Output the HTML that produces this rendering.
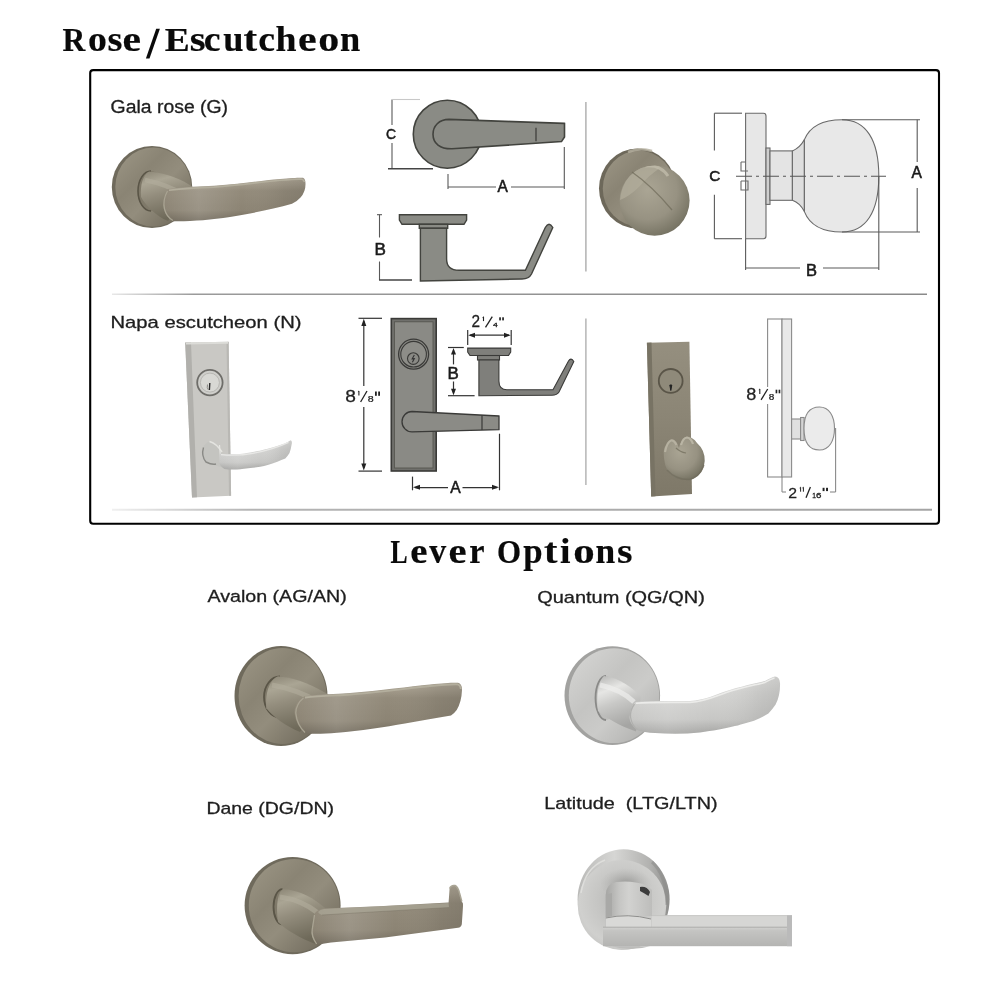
<!DOCTYPE html>
<html><head><meta charset="utf-8"><title>Rose/Escutcheon - Lever Options</title>
<style>
html,body{margin:0;padding:0;background:#fff;width:1000px;height:1000px;overflow:hidden}
svg{display:block;filter:blur(0.35px)}
.t{font-family:"Liberation Serif",serif;font-weight:bold;fill:#0a0a0a;stroke:#0a0a0a;stroke-width:0.2}
.l{font-family:"Liberation Sans",sans-serif;fill:#1e1e1e;stroke:#1e1e1e;stroke-width:0.3}
.d{font-family:"Liberation Sans",sans-serif;fill:#222;stroke:#222;stroke-width:0.4}
</style></head><body>
<svg width="1000" height="1000" viewBox="0 0 1000 1000">
<defs>
<linearGradient id="fadeL" gradientUnits="userSpaceOnUse" x1="112" y1="0" x2="927" y2="0">
  <stop offset="0" stop-color="#e8e8e8"/><stop offset="0.1" stop-color="#9a9a9a"/><stop offset="1" stop-color="#8a8a8a"/>
</linearGradient>
<linearGradient id="fadeL2" gradientUnits="userSpaceOnUse" x1="112" y1="0" x2="932" y2="0">
  <stop offset="0" stop-color="#f0f0f0"/><stop offset="0.17" stop-color="#b4b4b4"/><stop offset="1" stop-color="#a4a4a4"/>
</linearGradient>
<radialGradient id="bRose" cx="0.42" cy="0.38" r="0.62">
  <stop offset="0" stop-color="#9d9786"/><stop offset="0.55" stop-color="#878171"/><stop offset="0.88" stop-color="#736e5f"/><stop offset="1" stop-color="#5f5a4d"/>
</radialGradient>
<linearGradient id="bLev" x1="0" y1="0" x2="0" y2="1">
  <stop offset="0" stop-color="#a39e8d"/><stop offset="0.22" stop-color="#989382"/><stop offset="0.65" stop-color="#8a8474"/><stop offset="1" stop-color="#6c6759"/>
</linearGradient>
<linearGradient id="bNeck" x1="0" y1="0" x2="0" y2="1">
  <stop offset="0" stop-color="#7d7869"/><stop offset="0.35" stop-color="#a8a392"/><stop offset="0.6" stop-color="#8a8575"/><stop offset="1" stop-color="#635e50"/>
</linearGradient>
<radialGradient id="sRose" cx="0.42" cy="0.38" r="0.62">
  <stop offset="0" stop-color="#dcdcda"/><stop offset="0.55" stop-color="#cacac8"/><stop offset="0.88" stop-color="#b9b9b7"/><stop offset="1" stop-color="#9c9c9a"/>
</radialGradient>
<linearGradient id="sLev" x1="0" y1="0" x2="0" y2="1">
  <stop offset="0" stop-color="#e2e2e0"/><stop offset="0.3" stop-color="#d6d6d4"/><stop offset="0.75" stop-color="#c6c6c4"/><stop offset="1" stop-color="#a4a4a2"/>
</linearGradient>
<linearGradient id="sNeck" x1="0" y1="0" x2="0" y2="1">
  <stop offset="0" stop-color="#b8b8b6"/><stop offset="0.35" stop-color="#e4e4e2"/><stop offset="0.6" stop-color="#cbcbc9"/><stop offset="1" stop-color="#a2a2a0"/>
</linearGradient>
<linearGradient id="nPlate" x1="0" y1="0" x2="1" y2="0">
  <stop offset="0" stop-color="#b2b1ad"/><stop offset="0.12" stop-color="#c9c8c4"/><stop offset="0.85" stop-color="#cac9c5"/><stop offset="1" stop-color="#b9b8b4"/>
</linearGradient>
<linearGradient id="bPlate" x1="0" y1="0" x2="0" y2="1">
  <stop offset="0" stop-color="#958f7f"/><stop offset="0.5" stop-color="#8b8575"/><stop offset="1" stop-color="#7e7868"/>
</linearGradient>
<radialGradient id="bKnob" cx="0.4" cy="0.35" r="0.7">
  <stop offset="0" stop-color="#aaa594"/><stop offset="0.6" stop-color="#979282"/><stop offset="1" stop-color="#737060"/>
</radialGradient>

</defs>
<rect width="1000" height="1000" fill="#fff"/>

<!-- titles -->
<g class="t"><text x="0" y="0" font-size="33.6" transform="translate(62.46,51.4) scale(0.938,1)">R</text><text x="0" y="0" font-size="35.5" transform="translate(87.96,51.4) scale(1.063,1)">o</text><text x="0" y="0" font-size="35.5" transform="translate(107.44,51.4) scale(1.078,1)">s</text><text x="0" y="0" font-size="35.5" transform="translate(122.38,51.4) scale(1.174,1)">e</text><text x="0" y="0" font-size="33.6" transform="translate(164.76,51.4) scale(1.114,1)">E</text><text x="0" y="0" font-size="35.5" transform="translate(189.77,51.4) scale(1.145,1)">s</text><text x="0" y="0" font-size="35.5" transform="translate(203.81,51.4) scale(1.062,1)">c</text><text x="0" y="0" font-size="35.5" transform="translate(223.25,51.4) scale(1.025,1)">u</text><text x="0" y="0" font-size="35.5" transform="translate(243.54,51.4) scale(1.154,1)">t</text><text x="0" y="0" font-size="35.5" transform="translate(258.21,51.4) scale(1.062,1)">c</text><text x="0" y="0" font-size="35.5" transform="translate(275.56,51.4) scale(1.064,1)">h</text><text x="0" y="0" font-size="35.5" transform="translate(298.07,51.4) scale(1.182,1)">e</text><text x="0" y="0" font-size="35.5" transform="translate(318.30,51.4) scale(1.183,1)">o</text><text x="0" y="0" font-size="35.5" transform="translate(340.12,51.4) scale(1.025,1)">n</text></g>
<g class="t"><text x="0" y="0" font-size="33" transform="translate(390.46,562.6) scale(0.778,1)">L</text><text x="0" y="0" font-size="35.5" transform="translate(410.37,562.6) scale(1.094,1)">e</text><text x="0" y="0" font-size="35.5" transform="translate(429.20,562.6) scale(0.952,1)">v</text><text x="0" y="0" font-size="35.5" transform="translate(448.61,562.6) scale(1.145,1)">e</text><text x="0" y="0" font-size="35.5" transform="translate(469.28,562.6) scale(0.969,1)">r</text><text x="0" y="0" font-size="33" transform="translate(496.99,562.6) scale(0.936,1)">O</text><text x="0" y="0" font-size="35.5" transform="translate(523.26,562.6) scale(0.980,1)">p</text><text x="0" y="0" font-size="35.5" transform="translate(544.05,562.6) scale(1.136,1)">t</text><text x="0" y="0" font-size="35.5" transform="translate(559.97,562.6) scale(1.063,1)">i</text><text x="0" y="0" font-size="35.5" transform="translate(573.16,562.6) scale(1.210,1)">o</text><text x="0" y="0" font-size="35.5" transform="translate(595.55,562.6) scale(0.997,1)">n</text><text x="0" y="0" font-size="35.5" transform="translate(617.00,562.6) scale(1.120,1)">s</text></g>

<polygon points="156.2,28.8 159.9,28.8 149.5,58.5 145.9,58.5" fill="#0a0a0a"/>
<!-- box -->
<rect x="90.2" y="70.1" width="848.8" height="453.6" rx="3" fill="none" stroke="#000" stroke-width="2.1"/>
<line x1="112" y1="294.2" x2="927" y2="294.2" stroke="url(#fadeL)" stroke-width="1.6"/>
<line x1="112" y1="509.8" x2="932" y2="509.8" stroke="url(#fadeL2)" stroke-width="2"/>
<line x1="585.9" y1="102" x2="585.9" y2="271.4" stroke="#acacac" stroke-width="1.4"/>
<line x1="585.9" y1="318.6" x2="585.9" y2="485" stroke="#b0b0b0" stroke-width="1.4"/>


<!-- ===== top-middle lever diagram (top view) ===== -->
<g stroke="#42433e" stroke-width="1.6" fill="#8a8b85">
  <circle cx="447.3" cy="134.2" r="34"/>
  <path d="M564.5,123.4 L449,119.4 C439,119.4 433,126 433,134.2 C433,143.5 440,149 452,148.8 L561.5,141.6 L564.5,137 Z"/>
</g>
<line x1="536" y1="127.8" x2="536" y2="141.2" stroke="#3a3a36" stroke-width="1.2"/>
<g stroke="#585858" stroke-width="1.1" fill="none">
  <line x1="392" y1="99.5" x2="392" y2="125"/>
  <line x1="392" y1="143" x2="392" y2="168.7"/>
  <line x1="392" y1="99.5" x2="420" y2="99.5" stroke="#c8c8c8"/>
  <line x1="388" y1="168.7" x2="433" y2="168.7" stroke="#444" stroke-width="1.4"/>
  <line x1="448" y1="174" x2="448" y2="189"/>
  <line x1="564.3" y1="147" x2="564.3" y2="189"/>
  <line x1="448" y1="187" x2="496" y2="187"/>
  <line x1="511" y1="187" x2="564.3" y2="187"/>
</g>

<!-- side view -->
<g stroke="#42433e" stroke-width="1.4" fill="#8a8b85">
  <path d="M399.4,214.7 L466.6,214.7 L466.6,220 L464,224.3 L402,224.3 L399.4,220 Z"/>
  <rect x="419.3" y="224.3" width="28.4" height="4"/>
  <path d="M420.4,228.3 L446.6,228.3 L446.6,259 Q446.6,270.3 459,270.3 L525.4,270.3 L545.3,227.5 Q549,221 552.8,227.5 L531.5,274 Q529,279 522,279 L420.4,281 Z"/>
</g>
<g stroke="#585858" stroke-width="1.1" fill="none">
  <line x1="379.5" y1="214.7" x2="379.5" y2="237.5"/>
  <line x1="379.5" y1="261.5" x2="379.5" y2="280"/>
  <line x1="377" y1="214.7" x2="382" y2="214.7"/>
  <line x1="379" y1="280" x2="412" y2="280" stroke="#444" stroke-width="1.4"/>
</g>

<!-- ===== knob diagram (top right) ===== -->
<g stroke="#5a5a5a" stroke-width="1.1" fill="none">
  <line x1="714.4" y1="113.2" x2="714.4" y2="150.4"/>
  <line x1="714.4" y1="194.8" x2="714.4" y2="238.7"/>
  <line x1="714.4" y1="113.2" x2="742" y2="113.2"/>
  <line x1="714.4" y1="238.7" x2="742" y2="238.7"/>
</g>
<g stroke="#6a6a6a" stroke-width="1.1" fill="#e7e7e7">
  <path d="M745.6,113.2 L763.5,113.2 Q766,113.2 766,116 L766,236 Q766,238.7 763.5,238.7 L745.6,238.7 Z"/>
  <rect x="766" y="148" width="4" height="56.4" fill="#cfcfcf"/>
  <rect x="770" y="150.9" width="22.4" height="49.4" fill="#e4e4e4"/>
  <path d="M792.4,150.9 Q800,148 804.4,139.6 L804.4,211.6 Q800,203 792.4,200.3 Z" fill="#dedede"/>
  <path d="M804.4,139.6 C810,126 824,119.7 842,119.7 C866,119.7 878.8,140 878.8,176 C878.8,212 866,232 842,232 C824,232 810,226 804.4,211.6 Z" fill="#e8e8e8"/>
  <path d="M741,162 L745.6,162 M741,162 L741,171 L748,171 M741,181 L748,181 L748,190 L741,190 L741,181" fill="none"/>
</g>
<line x1="736" y1="176.3" x2="886" y2="176.3" stroke="#555" stroke-width="1.1" stroke-dasharray="16,4,3,4"/>
<g stroke="#5a5a5a" stroke-width="1.1" fill="none">
  <line x1="842" y1="119.7" x2="920" y2="119.7"/>
  <line x1="842" y1="232" x2="920" y2="232"/>
  <line x1="917.2" y1="119.7" x2="917.2" y2="162"/>
  <line x1="917.2" y1="188" x2="917.2" y2="232"/>
  <line x1="745.6" y1="238.7" x2="745.6" y2="270"/>
  <line x1="878.8" y1="176" x2="878.8" y2="270"/>
  <line x1="745.6" y1="268" x2="800" y2="268"/>
  <line x1="823" y1="268" x2="878.8" y2="268"/>
</g>

<!-- ===== Napa diagram ===== -->
<g stroke="#3a3a38" stroke-width="1.6" fill="#70706c">
  <rect x="391.3" y="318.6" width="44.9" height="152.4"/>
  <rect x="394.4" y="321.8" width="38.6" height="146.2" fill="#8a8a85" stroke="#55554f" stroke-width="0.9"/>
  <circle cx="413.6" cy="354.2" r="15" fill="#8a8a85" stroke-width="1.3"/>
  <circle cx="413.6" cy="354.2" r="12.8" fill="#8d8d88" stroke-width="1.1"/>
  <circle cx="413.3" cy="358.6" r="5.8" fill="#8a8a85" stroke-width="1.1"/>
  <path d="M499,416 L412,411.5 A10,10.2 0 0 0 412,431.9 L499,429.7 Z" fill="#8b8b86" stroke-width="1.3"/>
</g>
<line x1="482" y1="415.2" x2="482" y2="430" stroke="#3a3a38" stroke-width="1.2"/>
<path d="M414.3,355 L412.2,358.8 L414.3,358.6 L412.4,362.3" fill="none" stroke="#333" stroke-width="1.1"/>
<g stroke="#333" stroke-width="1.2" fill="none">
  <line x1="363.8" y1="321" x2="363.8" y2="386"/>
  <line x1="363.8" y1="407" x2="363.8" y2="468"/>
  <line x1="358.5" y1="318.3" x2="382" y2="318.3"/>
  <line x1="358.5" y1="471.1" x2="382" y2="471.1"/>
  <line x1="412.5" y1="476.6" x2="412.5" y2="490.3"/>
  <line x1="499.5" y1="433.7" x2="499.5" y2="490.3"/>
  <line x1="415" y1="487.6" x2="448" y2="487.6"/>
  <line x1="462.5" y1="487.6" x2="497" y2="487.6"/>
  <line x1="453.5" y1="350" x2="453.5" y2="364.4"/>
  <line x1="453.5" y1="381.5" x2="453.5" y2="393"/>
  <line x1="448" y1="347.5" x2="463.8" y2="347.5"/>
  <line x1="448" y1="395.7" x2="474.6" y2="395.7"/>
  <line x1="470" y1="335.2" x2="509" y2="335.2"/>
  <line x1="467.7" y1="330" x2="467.7" y2="345"/>
  <line x1="511.2" y1="330" x2="511.2" y2="345"/>
</g>
<g fill="#222">
  <path d="M363.8,318.8 L361.3,326 L366.3,326 Z"/>
  <path d="M363.8,470.6 L361.3,463.4 L366.3,463.4 Z"/>
  <path d="M413,487.3 L420,484.8 L420,489.8 Z"/>
  <path d="M499,487.3 L492,484.8 L492,489.8 Z"/>
  <path d="M453.5,348 L451,354.5 L456,354.5 Z"/>
  <path d="M453.5,395.2 L451,388.7 L456,388.7 Z"/>
  <path d="M468.2,335.2 L475,332.7 L475,337.7 Z"/>
  <path d="M510.7,335.2 L504,332.7 L504,337.7 Z"/>
</g>
<!-- small side lever -->
<g stroke="#3a3a38" stroke-width="1.1" fill="#7f7f7b">
  <path d="M467.7,348.1 L510.7,348.1 L510.7,352 L508.5,355.5 L470,355.5 L467.7,352 Z"/>
  <rect x="477.5" y="355.5" width="22" height="4.5"/>
  <path d="M478.9,360 L498.9,360 L498.9,381 Q498.9,389.8 507,389.8 L553,389.8 L568.5,361 Q571,357 573.8,361.5 L559,392 Q557,395.2 552,395.2 L478.9,395.7 Z"/>
</g>

<!-- ===== knob side diagram (bottom right) ===== -->
<g stroke="#8a8a8a" stroke-width="1.1">
  <rect x="767.6" y="319" width="14.4" height="158" fill="#fff"/>
  <rect x="782" y="319" width="9.6" height="158" fill="#e8e8e8"/>
  <rect x="791.6" y="419" width="9" height="20" fill="#e0e0e0"/>
  <rect x="800.6" y="417.5" width="3.5" height="23" fill="#d4d4d4"/>
  <path d="M804,428.5 C804,414 810,407 819.5,407 C829,407 834.5,416 834.5,428.5 C834.5,441 829,450 819.5,450 C810,450 804,443 804,428.5 Z" fill="#ebebeb"/>
  <line x1="782" y1="477" x2="782" y2="492"/>
  <line x1="835.6" y1="428" x2="835.6" y2="492"/>
  <line x1="782" y1="492" x2="786" y2="492"/>
  <line x1="830" y1="492" x2="835.6" y2="492"/>
</g>
<rect x="766" y="387" width="3.5" height="17" fill="#fff"/>


<!--FRAC-->
<g font-family="Liberation Sans, sans-serif">
<text x="0" y="0" font-size="15.89" transform="translate(345.17,401.84) scale(1.207,1)" fill="#222" stroke="#222" stroke-width="0.25">8</text>
<line x1="358.9" y1="391" x2="358.9" y2="395.5" stroke="#222" stroke-width="1.1"/><line x1="357.9" y1="391.8" x2="358.9" y2="391" stroke="#222" stroke-width="0.8800000000000001"/>
<line x1="367" y1="391" x2="360.6" y2="402" stroke="#222" stroke-width="1.3"/>
<text x="0" y="0" font-size="9.18" transform="translate(367.79,401.91) scale(1.161,1)" fill="#222" stroke="#222" stroke-width="0.25">8</text>
<rect x="375" y="391.5" width="1.80" height="4.30" fill="#222"/><rect x="378.20" y="391.5" width="1.80" height="4.30" fill="#222"/>
<text x="0" y="0" font-size="15.75" transform="translate(471.43,327.40) scale(0.975,1)" fill="#222" stroke="#222" stroke-width="0.25">2</text>
<line x1="483.5" y1="316.8" x2="483.5" y2="321.1" stroke="#222" stroke-width="1.1"/><line x1="482.5" y1="317.6" x2="483.5" y2="316.8" stroke="#222" stroke-width="0.8800000000000001"/>
<line x1="492.3" y1="316.6" x2="485.5" y2="327.4" stroke="#222" stroke-width="1.3"/>
<text x="0" y="0" font-size="5.52" transform="translate(492.90,326.90) scale(1.545,1)" fill="#222" stroke="#222" stroke-width="0.25">4</text>
<rect x="499.2" y="317.3" width="1.69" height="3.10" fill="#222"/><rect x="502.21" y="317.3" width="1.69" height="3.10" fill="#222"/>
<text x="0" y="0" font-size="15.68" transform="translate(746.21,399.75) scale(1.155,1)" fill="#222" stroke="#222" stroke-width="0.25">8</text>
<line x1="759.8" y1="389" x2="759.8" y2="394" stroke="#222" stroke-width="1.1"/><line x1="758.8" y1="389.8" x2="759.8" y2="389" stroke="#222" stroke-width="0.8800000000000001"/>
<line x1="767.7" y1="389" x2="761.1" y2="399.9" stroke="#222" stroke-width="1.3"/>
<text x="0" y="0" font-size="9.04" transform="translate(768.86,399.81) scale(1.108,1)" fill="#222" stroke="#222" stroke-width="0.25">8</text>
<rect x="775.6" y="389.7" width="1.69" height="3.60" fill="#222"/><rect x="778.61" y="389.7" width="1.69" height="3.60" fill="#222"/>
<text x="0" y="0" font-size="15.47" transform="translate(788.21,497.70) scale(1.022,1)" fill="#222" stroke="#222" stroke-width="0.25">2</text>
<line x1="800.6" y1="487.2" x2="800.6" y2="491.7" stroke="#222" stroke-width="1.0"/><line x1="799.6" y1="488.0" x2="800.6" y2="487.2" stroke="#222" stroke-width="0.8"/>
<line x1="803.4" y1="487.2" x2="803.4" y2="491.7" stroke="#222" stroke-width="1.0"/><line x1="802.4" y1="488.0" x2="803.4" y2="487.2" stroke="#222" stroke-width="0.8"/>
<line x1="810.4" y1="487" x2="806" y2="497.7" stroke="#222" stroke-width="1.3"/>
<text x="0" y="0" font-size="6.98" transform="translate(812.19,497.70) scale(0.964,1)" fill="#222" stroke="#222" stroke-width="0.25">1</text>
<text x="0" y="0" font-size="6.78" transform="translate(816.10,497.63) scale(1.438,1)" fill="#222" stroke="#222" stroke-width="0.25">6</text>
<rect x="822.6" y="487.8" width="1.94" height="3.30" fill="#222"/><rect x="826.06" y="487.8" width="1.94" height="3.30" fill="#222"/>
<text x="0" y="0" font-size="14.97" transform="translate(386.09,139.25) scale(0.928,1)" fill="#1a1a1a" stroke="#1a1a1a" stroke-width="0.55">C</text>
<text x="0" y="0" font-size="15.63" transform="translate(497.47,192.00) scale(0.989,1)" fill="#1a1a1a" stroke="#1a1a1a" stroke-width="0.55">A</text>
<text x="0" y="0" font-size="16.57" transform="translate(374.40,255.00) scale(1.032,1)" fill="#1a1a1a" stroke="#1a1a1a" stroke-width="0.55">B</text>
<text x="0" y="0" font-size="14.41" transform="translate(709.22,180.86) scale(1.063,1)" fill="#1a1a1a" stroke="#1a1a1a" stroke-width="0.55">C</text>
<text x="0" y="0" font-size="15.70" transform="translate(911.47,177.70) scale(0.990,1)" fill="#1a1a1a" stroke="#1a1a1a" stroke-width="0.55">A</text>
<text x="0" y="0" font-size="16.13" transform="translate(806.04,275.70) scale(1.025,1)" fill="#1a1a1a" stroke="#1a1a1a" stroke-width="0.55">B</text>
<text x="0" y="0" font-size="16.86" transform="translate(447.51,379.00) scale(1.003,1)" fill="#1a1a1a" stroke="#1a1a1a" stroke-width="0.55">B</text>
<text x="0" y="0" font-size="16.86" transform="translate(450.27,492.90) scale(0.930,1)" fill="#1a1a1a" stroke="#1a1a1a" stroke-width="0.55">A</text>
</g>
<!--/FRAC-->
<!--PHOTOS-->
<defs>
<linearGradient id="bFace" x1="0" y1="0" x2="1" y2="1">
  <stop offset="0" stop-color="#9e9887"/><stop offset="0.35" stop-color="#8a8474"/><stop offset="0.55" stop-color="#938d7d"/><stop offset="0.8" stop-color="#7b7566"/><stop offset="1" stop-color="#6a6557"/>
</linearGradient>
<linearGradient id="bLev2" x1="0" y1="0" x2="0" y2="1">
  <stop offset="0" stop-color="#ada595"/><stop offset="0.14" stop-color="#a29a8a"/><stop offset="0.3" stop-color="#938b7b"/><stop offset="0.75" stop-color="#8c8474"/><stop offset="1" stop-color="#716a5c"/>
</linearGradient>
<linearGradient id="levH" x1="0" y1="0" x2="1" y2="0">
  <stop offset="0" stop-color="#fff" stop-opacity="0"/><stop offset="0.25" stop-color="#fff" stop-opacity="0.13"/><stop offset="0.55" stop-color="#fff" stop-opacity="0"/><stop offset="0.85" stop-color="#000" stop-opacity="0.06"/><stop offset="1" stop-color="#000" stop-opacity="0.1"/>
</linearGradient>
<linearGradient id="bNeck2" x1="0" y1="0" x2="0.3" y2="1">
  <stop offset="0" stop-color="#8a8474"/><stop offset="0.25" stop-color="#aaa594"/><stop offset="0.5" stop-color="#948e7e"/><stop offset="1" stop-color="#6e6959"/>
</linearGradient>
<linearGradient id="sFace" x1="0" y1="0" x2="1" y2="1">
  <stop offset="0" stop-color="#d8d8d6"/><stop offset="0.4" stop-color="#c4c4c2"/><stop offset="0.6" stop-color="#cbcbc9"/><stop offset="1" stop-color="#a9a9a7"/>
</linearGradient>
<linearGradient id="sLev2" x1="0" y1="0" x2="0" y2="1">
  <stop offset="0" stop-color="#e2e2e0"/><stop offset="0.3" stop-color="#d4d4d2"/><stop offset="0.75" stop-color="#c7c7c5"/><stop offset="1" stop-color="#a6a6a4"/>
</linearGradient>
<linearGradient id="sNeck2" x1="0" y1="0" x2="0.3" y2="1">
  <stop offset="0" stop-color="#b5b5b3"/><stop offset="0.3" stop-color="#e6e6e4"/><stop offset="0.55" stop-color="#c9c9c7"/><stop offset="1" stop-color="#a5a5a3"/>
</linearGradient>
</defs>

<!-- Gala photo -->
<g>
  <ellipse cx="152" cy="187" rx="40.2" ry="41" fill="#6f6a5c"/>
  <ellipse cx="153.3" cy="187" rx="38" ry="39.4" fill="url(#bFace)"/>
  <ellipse cx="151" cy="191" rx="13" ry="20" fill="#7f7969"/>
  <path d="M151,171 A13,20 0 0 0 151,211" fill="none" stroke="#5a5547" stroke-width="1.6"/>
  <path d="M149,171.5 C166,173 182,179 194,188 L168,221 C156,216 146,206 141,197 C140,185 143,175 149,171.5 Z" fill="url(#bNeck2)"/>
  <path d="M145,180 C160,183 175,189 186,196" fill="none" stroke="#b3ae9c" stroke-width="4.5" opacity="0.6"/>
  <path d="M168,189 C185,187 200,186.2 214,185.8 C240,184 262,180.5 280,179 C292,178 300,177.5 303,177.8 Q305.5,178.5 305.5,184 Q305.5,192 300.5,197.5 Q297,201.5 292,203.8 C275,208.5 255,213 230,217 C210,220 190,221.5 174,221.2 Q166,218 163.5,208 Q162,197 168,189 Z" fill="url(#bLev2)"/>
  <path d="M168,189 C185,187 200,186.2 214,185.8 C240,184 262,180.5 280,179 C292,178 300,177.5 303,177.8 Q305.5,178.5 305.5,184 Q305.5,192 300.5,197.5 Q297,201.5 292,203.8 C275,208.5 255,213 230,217 C210,220 190,221.5 174,221.2 Q166,218 163.5,208 Q162,197 168,189 Z" fill="url(#levH)"/>
  <path d="M169,190.3 C185,188.3 200,187.5 214,187.1 C240,185.3 262,181.8 280,180.3 C292,179.3 299,178.9 302,179.2 Q304,179.6 304.3,182" fill="none" stroke="#b3ae9d" stroke-width="1.6"/>
  <path d="M167.5,191 Q162.5,200 164.5,209 Q166.5,217 173,220.5" fill="none" stroke="#a9a493" stroke-width="1.2"/>
</g>

<!-- Avalon photo -->
<g>
  <ellipse cx="281" cy="696" rx="46.5" ry="50" fill="#6f6a5c"/>
  <ellipse cx="282.6" cy="696" rx="44" ry="48" fill="url(#bFace)"/>
  <ellipse cx="280" cy="697" rx="16" ry="20.5" fill="#7f7969"/>
  <path d="M280,676.5 A16,20.5 0 0 0 280,717.5" fill="none" stroke="#5a5547" stroke-width="1.8"/>
  <path d="M278,676.3 C298,678 316,687 329,695 L300,732 C286,726 273,717 266.3,708.2 C265,694 269,680 278,676.3 Z" fill="url(#bNeck2)"/>
  <path d="M272,685 C290,688 307,695 320,703" fill="none" stroke="#b3ae9c" stroke-width="5" opacity="0.6"/>
  <path d="M304.7,696 C320,694.5 335,694 350,693 C380,690.5 410,686.5 430,684.5 C445,683 453,682.5 458,682.8 Q462,683.5 462,690 Q461.5,702 456.7,709.9 Q454,713.5 451,715.6 C435,718.5 420,721 405,723.5 C385,727 360,731 337,732.7 C325,733.8 315,734 306,733.5 Q296,727 294.3,712 Q295,701 304.7,696 Z" fill="url(#bLev2)"/>
  <path d="M304.7,696 C320,694.5 335,694 350,693 C380,690.5 410,686.5 430,684.5 C445,683 453,682.5 458,682.8 Q462,683.5 462,690 Q461.5,702 456.7,709.9 Q454,713.5 451,715.6 C435,718.5 420,721 405,723.5 C385,727 360,731 337,732.7 C325,733.8 315,734 306,733.5 Q296,727 294.3,712 Q295,701 304.7,696 Z" fill="url(#levH)"/>
  <path d="M305,697.5 C320,696 335,695.5 350,694.5 C380,692 410,688 430,686 C445,684.5 453,684 457.5,684.3 Q460.5,685 460.7,689" fill="none" stroke="#b3ae9d" stroke-width="1.8"/>
  <path d="M303.5,698 Q296,704 295.8,713 Q297,725 305,732.5" fill="none" stroke="#a9a493" stroke-width="1.3"/>
</g>

<!-- Quantum photo -->
<g>
  <ellipse cx="612.3" cy="695.6" rx="47.8" ry="49.4" fill="#a2a2a0"/>
  <ellipse cx="614" cy="695.6" rx="45.2" ry="47.4" fill="url(#sFace)"/>
  <ellipse cx="606" cy="698" rx="10.5" ry="22" fill="#bdbdbb"/>
  <path d="M606,676 A10.5,22 0 0 0 606,720" fill="none" stroke="#8a8a88" stroke-width="1.8"/>
  <path d="M604,676 C620,678 633,688 641,697 L636,731.5 C620,726 606,718 598,711 C596,698 598,681 604,676 Z" fill="url(#sNeck2)"/>
  <path d="M600,685 C614,688 626,694 634,702" fill="none" stroke="#eeeeec" stroke-width="5" opacity="0.7"/>
  <path d="M635.5,702 C650,700.5 665,701 690,701 C705,700 715,695 725,691.5 C740,686.5 755,683.5 765,681 Q772,677 775,676.5 Q779.5,676.5 780,683 Q780.5,695 775.6,704.6 Q772,710 768.4,713.6 Q762,717.5 754,720.8 C740,725 727,729 700,732.5 C685,734 670,734 655,733 Q644,732.5 637,730 Q628,722 629.8,715.4 Q630.5,706 635.5,702 Z" fill="url(#sLev2)"/>
  <path d="M635.5,702 C650,700.5 665,701 690,701 C705,700 715,695 725,691.5 C740,686.5 755,683.5 765,681 Q772,677 775,676.5 Q779.5,676.5 780,683 Q780.5,695 775.6,704.6 Q772,710 768.4,713.6 Q762,717.5 754,720.8 C740,725 727,729 700,732.5 C685,734 670,734 655,733 Q644,732.5 637,730 Q628,722 629.8,715.4 Q630.5,706 635.5,702 Z" fill="url(#levH)"/>
  <path d="M636,703.3 C650,702 665,702.4 690,702.4 C705,701.4 715,696.4 725,692.9 C740,688 755,685 765,682.4 Q771,679 774.5,678" fill="none" stroke="#ececea" stroke-width="1.6"/>
  <path d="M634.5,704 Q630,710 630.5,717 Q632,726 637.5,729.5" fill="none" stroke="#b0b0ae" stroke-width="1.3"/>
</g>

<!-- Dane photo -->
<g>
  <ellipse cx="292.6" cy="905.6" rx="48" ry="48.6" fill="#6f6a5c"/>
  <ellipse cx="294.2" cy="905.6" rx="45.4" ry="46.6" fill="url(#bFace)"/>
  <ellipse cx="282.5" cy="906.8" rx="9" ry="17.6" fill="#7f7969"/>
  <path d="M282.5,889.2 A9,17.6 0 0 0 282.5,924.4" fill="none" stroke="#5a5547" stroke-width="1.8"/>
  <path d="M283,889 C300,890 315,899 325,908 L316.6,944.6 C300,938 286,930 278,922 C276,908 277,893 283,889 Z" fill="url(#bNeck2)"/>
  <path d="M280,897 C295,899 308,905 318,913" fill="none" stroke="#b3ae9c" stroke-width="5" opacity="0.6"/>
  <path d="M323.8,908.6 L379,906.2 L448.6,902.6 L449.6,888.5 Q451,884.8 455,885.5 Q458,887 459.5,893 L461.8,901.4 Q463.5,903 463,906 L461.8,924.2 Q461,927.5 458,927.8 L385,937.6 L331,942.6 L316.6,944.8 Q310,936 311.8,929 L314.2,914.6 Q316.5,909.5 323.8,908.6 Z" fill="url(#bLev2)"/>
  <path d="M323.8,908.6 L379,906.2 L448.6,902.6 L449.6,888.5 Q451,884.8 455,885.5 Q458,887 459.5,893 L461.8,901.4 Q463.5,903 463,906 L461.8,924.2 Q461,927.5 458,927.8 L385,937.6 L331,942.6 L316.6,944.8 Q310,936 311.8,929 L314.2,914.6 Q316.5,909.5 323.8,908.6 Z" fill="url(#levH)"/>
  <path d="M318,912 Q320,909.5 324,909 L448.6,903 L449,907.5 L322,915 Q319,914 318,912 Z" fill="#aaa595" opacity="0.75"/>
  <path d="M322,915 L449,907.5" fill="none" stroke="#7c7667" stroke-width="0.8" opacity="0.6"/>
  <path d="M449.6,888.5 Q451,884.8 455,885.5 Q458,887 459.5,893 L461.8,901.4" fill="none" stroke="#aaa595" stroke-width="1.5"/>
  <path d="M314.5,915 L312.3,929 Q311,936 316.6,944" fill="none" stroke="#a9a493" stroke-width="1.3"/>
</g>

<!-- Latitude photo -->
<defs>
<radialGradient id="latFace" cx="0.5" cy="0.45" r="0.6">
  <stop offset="0" stop-color="#a9a9a7"/><stop offset="0.35" stop-color="#c2c2c0"/><stop offset="0.8" stop-color="#d0d0ce"/><stop offset="1" stop-color="#c4c4c2"/>
</radialGradient>
<linearGradient id="latRim" x1="0" y1="0" x2="1" y2="0">
  <stop offset="0" stop-color="#b9b9b7"/><stop offset="0.4" stop-color="#d6d6d4"/><stop offset="0.8" stop-color="#b0b0ae"/><stop offset="1" stop-color="#8e8e8c"/>
</linearGradient>
<linearGradient id="latNeck" x1="0" y1="0" x2="1" y2="0">
  <stop offset="0" stop-color="#a6a6a4"/><stop offset="0.3" stop-color="#c6c6c4"/><stop offset="0.5" stop-color="#d2d2d0"/><stop offset="1" stop-color="#bdbdbb"/>
</linearGradient>
<linearGradient id="latFront" x1="0" y1="0" x2="0" y2="1">
  <stop offset="0" stop-color="#d2d2d0"/><stop offset="0.2" stop-color="#c4c4c2"/><stop offset="1" stop-color="#b4b4b2"/>
</linearGradient>
<radialGradient id="latShade"><stop offset="0" stop-color="#8e8e8c" stop-opacity="0.85"/><stop offset="1" stop-color="#b0b0ae" stop-opacity="0"/></radialGradient>
<pattern id="brush" width="3" height="20" patternUnits="userSpaceOnUse">
  <rect width="3" height="20" fill="none"/><rect x="0" width="1" height="20" fill="#000" opacity="0.025"/>
</pattern>
</defs>
<g>
  <ellipse cx="623.6" cy="899.5" rx="46" ry="50.2" fill="url(#latRim)"/>
  <ellipse cx="622" cy="905" rx="44.3" ry="45" fill="url(#latFace)"/>
  <path d="M581,893 Q585,868 605,860" fill="none" stroke="#e2e2e0" stroke-width="1.5" opacity="0.8"/>
  <ellipse cx="626" cy="884" rx="26" ry="16" fill="url(#latShade)"/>
  <path d="M652,862 Q666,874 667,905" fill="none" stroke="#8c8c8a" stroke-width="3" opacity="0.55"/>
  <path d="M605.8,894.5 Q606,884 616,882 Q632,880 646,885 L652,890 L652,916 L605.8,917 Z" fill="url(#latNeck)"/>
  <path d="M605.8,894.5 L605.8,927.5 L612,927.5 L612,893 Z" fill="#a9a9a7"/>
  <path d="M640,887 Q647,886 650,892 L648.5,896 Q644,893 640,891 Z" fill="#3c3c3c"/>
  <path d="M605.8,917.6 Q628,912.5 651,918.5 L651,927 L605.8,927 Z" fill="#d9d9d7"/>
  <path d="M605.8,918 Q628,913 651,919" fill="none" stroke="#8e8e8c" stroke-width="1"/>
  <rect x="652" y="915.4" width="140" height="11.8" fill="#d6d6d4"/>
  <rect x="603" y="927" width="189" height="19.2" fill="url(#latFront)"/>
  <line x1="603" y1="927.2" x2="792" y2="927.2" stroke="#a8a8a6" stroke-width="0.9"/>
  <line x1="652" y1="915.6" x2="792" y2="915.6" stroke="#c0c0be" stroke-width="0.8"/>
  <rect x="787" y="915.4" width="5" height="30.8" fill="#bababa"/>
  <path d="M612,946.2 Q630,952 650,946.2 Z" fill="#bdbdbb"/>
</g>

<!-- Napa escutcheon photo (silver) -->
<g>
  <path d="M185.2,342.6 L228.6,341.8 L231.1,495.7 L192,497.4 Z" fill="#c9c8c4"/>
  <path d="M185.2,342.6 L191,342.5 L197,497.2 L192,497.4 Z" fill="#b1b0ac"/>
  <path d="M226.5,341.9 L228.6,341.8 L231.1,495.7 L229,495.8 Z" fill="#b9b8b4"/>
  <path d="M186,343.6 L228,342.8" stroke="#dcdcd8" stroke-width="2"/>
  <circle cx="209.9" cy="382.6" r="12.7" fill="#cfcfcb" stroke="#6e6d69" stroke-width="1.8"/>
  <circle cx="209.9" cy="382.6" r="9.5" fill="#d8d8d4" stroke="#b0afab" stroke-width="0.8"/>
  <path d="M209.8,383 L209.4,390" stroke="#2a2a2a" stroke-width="1.4"/><path d="M207.5,384.5 Q206.5,388 208.5,390" fill="none" stroke="#8c8b87" stroke-width="1"/>
  <path d="M209.5,441.5 Q216,443 222,452 L224,468 Q214,466 205,461.5 Q201,455 203,448 Q205,442.5 209.5,441.5 Z" fill="#c4c4c0"/>
  <path d="M209.5,441.5 Q216,443 222,452" fill="none" stroke="#e4e4e0" stroke-width="1.6"/>
  <path d="M203.5,447.5 Q201,456 206,462 Q212,465 216,464" fill="none" stroke="#8a8a86" stroke-width="1.4"/>
  <path d="M219.5,445 L221,464" fill="none" stroke="#e6e6e2" stroke-width="1.2"/>
  <path d="M220.2,453.5 C228,454.5 232,454.5 237,454.2 C245,453.6 250,452.6 252.8,452 C260,450.6 264,449.5 268.5,448.4 C275,446.6 280,445.2 284.3,443.7 Q288,442 290.6,440.3 Q292.5,441 291.6,444.5 Q290.8,450 289.5,453.1 Q287.5,456.5 285.3,458.4 C280,460.5 275,462.7 268.5,464.7 C262,466.5 258,467.2 252.8,467.8 C246,468.6 241,469.2 237,469.4 C232,469.6 228,469.4 224.4,468.9 Q220,466.5 219.2,462.6 Q218.8,457 220.2,453.5 Z" fill="url(#sLev2)"/>
  <path d="M220.2,453.5 C228,454.5 232,454.5 237,454.2 C245,453.6 250,452.6 252.8,452 C260,450.6 264,449.5 268.5,448.4 C275,446.6 280,445.2 284.3,443.7 Q288,442 290.6,440.3 Q292.5,441 291.6,444.5 Q290.8,450 289.5,453.1 Q287.5,456.5 285.3,458.4 C280,460.5 275,462.7 268.5,464.7 C262,466.5 258,467.2 252.8,467.8 C246,468.6 241,469.2 237,469.4 C232,469.6 228,469.4 224.4,468.9 Q220,466.5 219.2,462.6 Q218.8,457 220.2,453.5 Z" fill="url(#levH)"/>
  <path d="M221,454.6 C232,455.6 245,454.8 252.8,453.3 C265,451 278,447.2 288.5,442.3" fill="none" stroke="#e8e8e6" stroke-width="1.3"/>
</g>

<!-- Bronze escutcheon with knob -->
<g>
  <path d="M646.9,342.7 L689.4,341.8 L692,494 L651.2,496.5 Z" fill="url(#bPlate)"/>
  <path d="M646.9,342.7 L651.5,342.6 L655.5,496.3 L651.2,496.5 Z" fill="#787364"/>
  <circle cx="670.7" cy="380.9" r="11.9" fill="#8f8a7a" stroke="#5a5548" stroke-width="1.8"/>
  <path d="M669.8,385 L671.8,385 L670.8,390.5 Z" fill="#222" stroke="#222" stroke-width="1"/>
  <path d="M664,458 Q662,446 670,440 Q674,438 677,443 L679,448 Q681,438 687,436.5 Q693,437 697,443 Q705,450 704.7,461 Q704,474 693,479 Q684,481.5 675,478 Q665,472 664,458 Z" fill="url(#bKnob)"/>
  <path d="M665,452 Q667,442 671,440.5 Q674,440 676.5,445" fill="none" stroke="#b9b4a3" stroke-width="2.2" opacity="0.9"/>
  <path d="M681,445 Q683,438 687,437.5 Q691,438 693,444" fill="none" stroke="#bdb8a7" stroke-width="2.2" opacity="0.9"/>
  <path d="M676,448 Q680,452 686,453" fill="none" stroke="#6e6959" stroke-width="1.2" opacity="0.7"/>
  <path d="M667,470 Q676,480 690,479.5 Q700,476 704,465" fill="none" stroke="#6f6a5b" stroke-width="1.5" opacity="0.6"/>
</g>

<!-- Top-right knob photo -->
<defs><clipPath id="knobClip"><ellipse cx="654.6" cy="200.6" rx="35" ry="35.2"/></clipPath></defs>
<g>
  <ellipse cx="637.5" cy="188.5" rx="38.5" ry="40" fill="#6d685a"/>
  <ellipse cx="638.8" cy="188.5" rx="36" ry="38" fill="url(#bFace)"/>
  <path d="M628,152 Q640,147 652,151" fill="none" stroke="#b5b0a0" stroke-width="2.5" opacity="0.8"/>
  <ellipse cx="654.6" cy="200.6" rx="35" ry="35.2" fill="url(#bKnob)"/>
  <g clip-path="url(#knobClip)">
    <path d="M620,200 Q622,178 640,168 Q652,163 660,168 Q648,176 640,186 Q630,196 620,200 Z" fill="#b0ab9a" opacity="0.8"/>
    <path d="M645,166 Q660,164 668,176" fill="none" stroke="#c0bbaa" stroke-width="3" opacity="0.8"/>
  </g>
  <path d="M632,172 Q652,186 672,210" stroke="#6e6958" stroke-width="1.3" fill="none" opacity="0.7"/>
</g>

<!--/PHOTOS-->
<!-- labels -->
<text class="l" x="110.60" y="112.5" font-size="17.6" textLength="117.50" lengthAdjust="spacingAndGlyphs">Gala rose (G)</text>
<text class="l" x="110.50" y="328.1" font-size="17" textLength="191.00" lengthAdjust="spacingAndGlyphs">Napa escutcheon (N)</text>
<text class="l" x="207.40" y="602.4" font-size="16.8" textLength="139.40" lengthAdjust="spacingAndGlyphs">Avalon (AG/AN)</text>
<text class="l" x="537.20" y="602.6" font-size="17" textLength="167.60" lengthAdjust="spacingAndGlyphs">Quantum (QG/QN)</text>
<text class="l" x="206.40" y="813.6" font-size="17" textLength="127.60" lengthAdjust="spacingAndGlyphs">Dane (DG/DN)</text>
<text class="l" x="544.20" y="809.4" font-size="17" textLength="173.40" lengthAdjust="spacingAndGlyphs" xml:space="preserve">Latitude  (LTG/LTN)</text>

</svg>
</body></html>
